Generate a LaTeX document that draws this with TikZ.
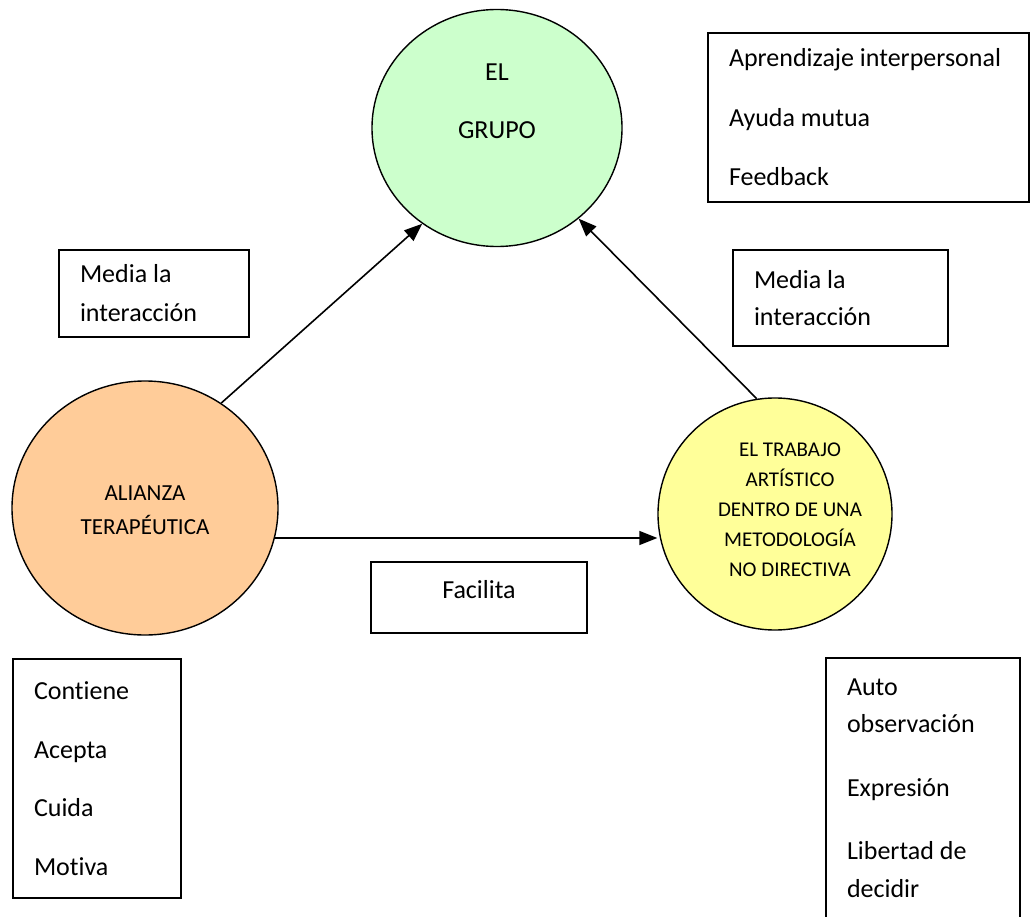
\documentclass[tikz,border=0pt]{standalone}
\usepackage{fontspec}
\setmainfont{Carlito}[Ligatures=NoCommon]
\usepackage{xcolor}
\usepackage{tikz}
\usetikzlibrary{arrows.meta, shapes.geometric}
\definecolor{grupofill}{HTML}{CCFFCC}
\definecolor{alianzafill}{HTML}{FFCC99}
\definecolor{trabajofill}{HTML}{FFFF99}

\begin{document}
\begin{tikzpicture}[
  x=1pt, y=-1pt,
  >={Triangle[length=18pt, width=14pt]}, line width=1.6pt,
  bubble/.style={ellipse, draw, line width=1.4pt, inner sep=0pt},
  txtbox/.style={rectangle, draw, line width=1.4pt, inner xsep=21pt, inner ysep=0pt, align=flush left},
  every node/.style={font=\fontsize{26}{38}\selectfont}
]
\useasboundingbox (0,0) rectangle (1030,917);

% circles
\node[bubble, fill=grupofill, minimum width=250pt, minimum height=237pt] (grupo) at (497,128) {};
\node[align=center, font=\fontsize{26}{58}\selectfont] (grupotxt) at (497,101) {EL\\GRUPO};
\node[bubble, fill=alianzafill, minimum width=266pt, minimum height=254pt] (alianza) at (145,508) {};
\node[align=center, font=\fontsize{23}{34}\selectfont] (alianzatxt) at (145,510) {ALIANZA\\TERAPÉUTICA};
\node[bubble, fill=trabajofill, minimum width=234pt, minimum height=232pt] (trabajo) at (775,514) {};
\node[align=center, font=\fontsize{21}{30}\selectfont] (trabajotxt) at (790,510) {EL TRABAJO\\ARTÍSTICO\\DENTRO DE UNA\\METODOLOGÍA\\NO DIRECTIVA};

\draw[->] (alianza.54) -- (grupo.232);
\draw[->] (trabajo.99) -- (grupo.-48);
\draw[->] (alianza.-13) -- (alianza.-13 -| trabajo.west);

% boxes
\node[txtbox, minimum width=321pt, minimum height=169pt, text width=279pt, font=\fontsize{26}{59.5}\selectfont] (grupobox) at (868.5,117.5) {Aprendizaje~interpersonal\\Ayuda mutua\\Feedback};
\node[txtbox, minimum width=190pt, minimum height=87pt, text width=148pt, font=\fontsize{26}{39}\selectfont] (medialeft) at (154,293.5) {Media la\\interacción};
\node[txtbox, minimum width=215pt, minimum height=96pt, text width=173pt, font=\fontsize{26}{37}\selectfont] (mediaright) at (840.5,298) {Media la\\interacción};
\node[txtbox, align=center, minimum width=216pt, minimum height=71pt, text width=174pt, text depth=16pt] (facilita) at (479,597.5) {Facilita};
\node[txtbox, minimum width=168pt, minimum height=239pt, text width=126pt, font=\fontsize{26}{58.7}\selectfont] (alianzabox) at (97,778.5) {Contiene\\Acepta\\Cuida\\Motiva};
\node[txtbox, minimum width=194pt, minimum height=260pt, text width=152pt, font=\fontsize{26}{37.5}\selectfont] (trabajobox) at (923,788) {Auto\\observación\\[26pt]Expresión\\[26pt]Libertad de\\decidir};
\end{tikzpicture}
\end{document}
